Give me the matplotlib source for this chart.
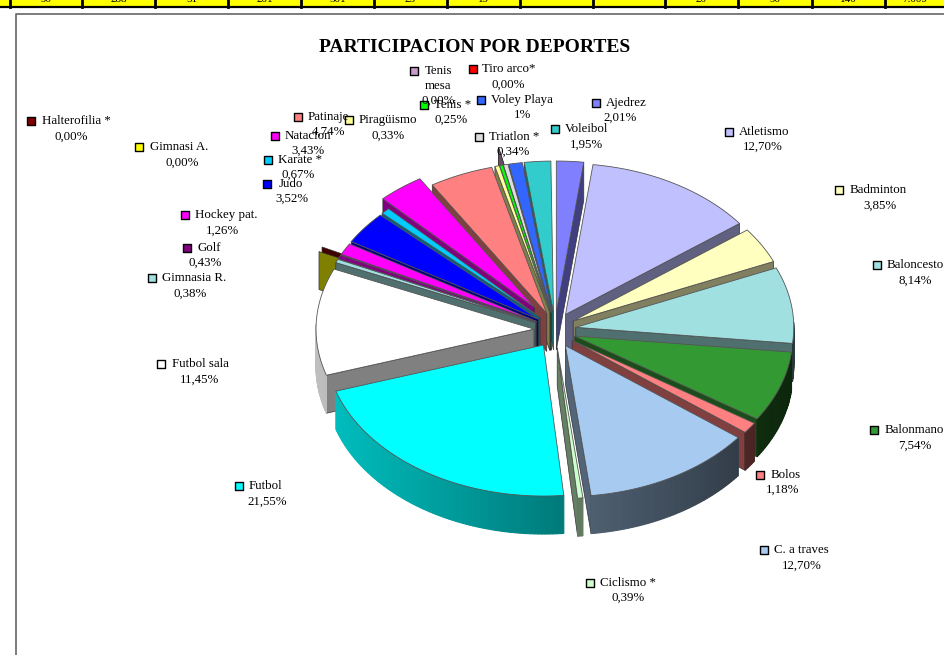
import matplotlib
matplotlib.use("Agg")
import matplotlib.pyplot as plt
from matplotlib.patches import Polygon
import numpy as np

plt.rcParams['font.family'] = ['Liberation Serif', 'DejaVu Serif']

deportes = ["Ajedrez", "Atletismo", "Badminton", "Baloncesto", "Balonmano", "Bolos",
            "C. a traves", "Ciclismo *", "Futbol", "Futbol sala", "Gimnasia R.", "Gimnasi A.",
            "Golf", "Halterofilia *", "Hockey pat.", "Judo", "Karate *", "Natacion",
            "Patinaje", "Piragüismo", "Tenis *", "Tenis\nmesa", "Tiro arco*", "Triatlon *",
            "Voley Playa", "Voleibol"]
porcentajes = [2.01, 12.70, 3.85, 8.14, 7.54, 1.18, 12.70, 0.39, 21.55, 11.45, 0.38, 0.00,
               0.43, 0.00, 1.26, 3.52, 0.67, 3.43, 4.74, 0.33, 0.25, 0.00, 0.00, 0.34,
               1.00, 1.95]
etiquetas = ["2,01%", "12,70%", "3,85%", "8,14%", "7,54%", "1,18%", "12,70%", "0,39%",
             "21,55%", "11,45%", "0,38%", "0,00%", "0,43%", "0,00%", "1,26%", "3,52%",
             "0,67%", "3,43%", "4,74%", "0,33%", "0,25%", "0,00%", "0,00%", "0,34%",
             "1%", "1,95%"]
colores = ["#8080FF", "#C0C0FF", "#FFFFC0", "#A0E0E0", "#339933", "#FF8080", "#A6CAF0",
           "#CCFFCC", "#00FFFF", "#FFFFFF", "#A0E0E0", "#FFFF00", "#800080", "#800000",
           "#FF00FF", "#0000FF", "#00CCFF", "#FF00FF", "#FF8080", "#FFFF99", "#00FF00",
           "#CC99CC", "#FF0000", "#DDDDDD", "#3366FF", "#33CCCC"]

# fila amarilla de la tabla que queda cortada arriba
fila_tabla = ["90", "288", "51", "201", "501", "25", "19", "-", "-", "20", "90", "140", "7.009"]
cortes_tabla = [10, 82, 155, 228, 301, 374, 447, 520, 593, 665, 738, 812, 885, 944]

# marcador x, y / inicio texto x / centro porcentaje x, y
pos_etiquetas = [(596, 103, 606, 620, 118), (729, 132, 739, 763, 147), (839, 190, 850, 880, 206),
                 (877, 265, 887, 915, 281), (874, 430, 885, 915, 446), (760, 475, 771, 783, 490),
                 (764, 550, 774, 802, 566), (590, 583, 600, 628, 598), (239, 486, 249, 267, 502),
                 (161, 364, 172, 200, 380), (152, 278, 162, 190, 294), (139, 147, 150, 182, 163),
                 (187, 248, 197, 205, 263), (31, 121, 42, 71, 137), (185, 215, 195, 222, 231),
                 (267, 184, 279, 292, 199), (268, 160, 278, 298, 175), (275, 136, 285, 308, 151),
                 (298, 117, 308, 328, 132), (349, 120, 359, 388, 136), (424, 105, 434, 451, 120),
                 (414, 71, 425, 438, 101), (473, 69, 482, 508, 85), (479, 137, 489, 513, 152),
                 (481, 100, 491, 523, 115), (555, 129, 565, 586, 145)]

cx, cy = 555, 330
rx, ry = 218, 151
ex, ey = 21, 18
prof = 38
sep_extra = {"Natacion": 1.6}


def sombra(color, f):
    return tuple(c * f for c in matplotlib.colors.to_rgb(color))


def borde(ang, ox, oy):
    return ox + rx * np.sin(ang), oy - ry * np.cos(ang)


fig = plt.figure(figsize=(9.44, 6.55), dpi=100)
ax = fig.add_axes([0, 0, 1, 1])
ax.set_xlim(0, 944)
ax.set_ylim(655, 0)
ax.axis("off")

# tabla
ax.fill_between([0, 944], 0, 6, color="#FFFF00", lw=0, zorder=1)
ax.plot([0, 944], [6.5, 6.5], color="black", lw=1.6, zorder=2)
for x in cortes_tabla[:-1]:
    ax.plot([x, x], [0, 6.5], color="black", lw=2.0, zorder=2)
for i, t in enumerate(fila_tabla):
    ax.text((cortes_tabla[i] + cortes_tabla[i + 1]) / 2, 0, t, fontsize=8, ha="center", va="center",
            zorder=3, clip_on=True)

# marco
ax.plot([16, 16, 944], [655, 14, 14], color="#666666", lw=1.2, zorder=2)

ax.text(475, 47, "PARTICIPACION POR DEPORTES", fontsize=14, fontweight="bold",
        ha="center", va="center", zorder=20)

# tarta: primero los sectores de 0% que solo asoman por detras
acum = np.cumsum([0] + porcentajes)
total = 100.0
ceros = [i for i in range(len(porcentajes) - 1, -1, -1) if porcentajes[i] == 0]
resto = [i for i in range(len(porcentajes)) if porcentajes[i] > 0]
resto = sorted(resto, key=lambda i: -np.cos((acum[i] + acum[i + 1]) / total * np.pi))
z = 5
for i in ceros + resto:
    a = acum[i] / total * 2 * np.pi
    b = acum[i + 1] / total * 2 * np.pi
    m = (a + b) / 2
    k = 2.0 if porcentajes[i] == 0 else sep_extra.get(deportes[i], 1.0)
    ox = cx + k * ex * np.sin(m)
    oy = cy - k * ey * np.cos(m)
    col = colores[i]
    # paredes radiales que miran al frente
    for ang, visible in ((a, np.sin(a) < 0), (b, np.sin(b) > 0)):
        if visible:
            px, py = borde(ang, ox, oy)
            ax.add_patch(Polygon([(ox, oy), (px, py), (px, py + prof), (ox, oy + prof)],
                                 fc=sombra(col, 0.5), ec="#333333", lw=0.5, zorder=z))
    # pared exterior
    t = np.linspace(a, b, max(int((b - a) * 60), 2))
    for k2 in range(len(t) - 1):
        if np.cos(t[k2]) < 0.02 or np.cos(t[k2 + 1]) < 0.02:
            x0, y0 = borde(t[k2], ox, oy)
            x1, y1 = borde(t[k2 + 1], ox, oy)
            f = 0.5 - 0.25 * np.sin((t[k2] + t[k2 + 1]) / 2)
            c = sombra(col, f)
            ax.add_patch(Polygon([(x0, y0), (x1, y1), (x1, y1 + prof), (x0, y0 + prof)],
                                 fc=c, ec=c, lw=0.8, zorder=z))
    # tapa
    if b > a:
        t = np.linspace(a, b, max(int((b - a) * 60), 2))
        xs, ys = borde(t, ox, oy)
        ax.add_patch(Polygon(list(zip(np.r_[ox, xs], np.r_[oy, ys])), fc=col, ec="#555555",
                             lw=0.6, joinstyle="round", zorder=z))
    z += 1

# etiquetas
for i, nombre in enumerate(deportes):
    mx, my, tx, px, py = pos_etiquetas[i]
    ax.scatter([mx], [my], marker="s", s=28, c=[colores[i]], edgecolors="black", linewidths=1.0, zorder=30)
    if "\n" in nombre:
        primera, segunda = nombre.split("\n")
        ax.text(tx, my, primera, fontsize=9.3, ha="left", va="center", zorder=31)
        ax.text(px, my + 15, segunda, fontsize=9.3, ha="center", va="center", zorder=31)
    else:
        ax.text(tx, my, nombre, fontsize=9.3, ha="left", va="center", zorder=31)
    ax.text(px, py, etiquetas[i], fontsize=9.3, ha="center", va="center", zorder=31)

fig.savefig("out.png", dpi=100)
